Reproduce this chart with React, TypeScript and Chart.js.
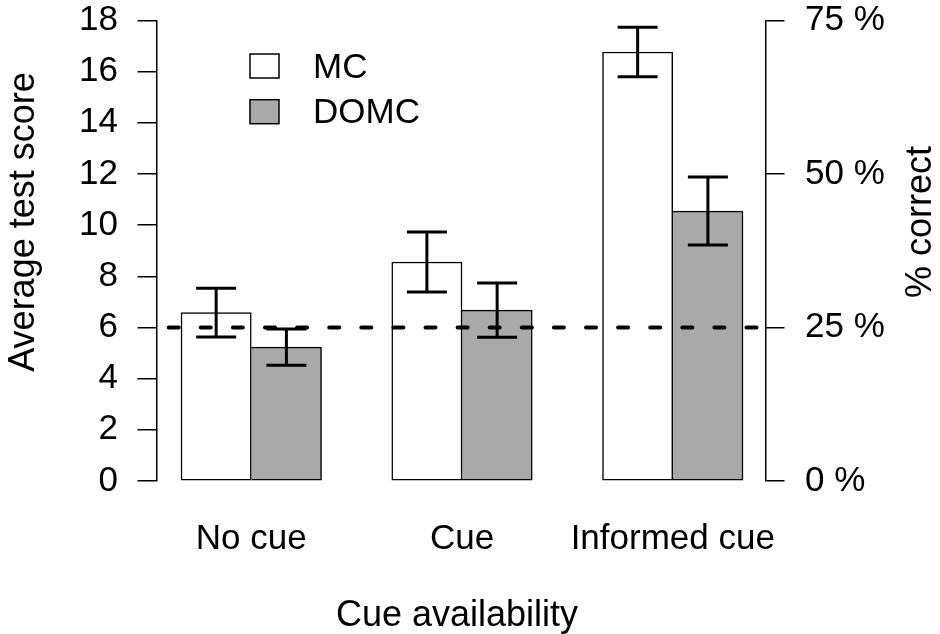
import React, { useEffect, useRef } from 'react';
import { Chart, registerables } from 'chart.js';

Chart.register(...registerables);

// ---- data ----
const categories = ['No cue', 'Cue', 'Informed cue'];
const seriesNames = ['MC', 'DOMC'];
const mcMeans = [6.58, 8.56, 16.77];
const domcMeans = [5.23, 6.68, 10.55];
const mcErrors = [0.95, 1.17, 0.97];
const domcErrors = [0.71, 1.06, 1.33];
const scoreTicks = [0, 2, 4, 6, 8, 10, 12, 14, 16, 18];
const percentTicks = [0, 25, 50, 75];
const totalItems = 24;
const chanceScore = 6;
const seriesColors = ['#FFFFFF', '#A9A9A9'];
const xTitle = 'Cue availability';
const yTitle = 'Average test score';
const y2Title = '% correct';

const means = [mcMeans, domcMeans];
const errors = [mcErrors, domcErrors];
const barsPerGroup = seriesNames.length;
const groupSpace = 1;
const barX = (i: number, s: number) => i * (barsPerGroup + groupSpace) + groupSpace + s + 0.5;
const groupCenter = (i: number) => i * (barsPerGroup + groupSpace) + groupSpace + barsPerGroup / 2;

const FONT = '"Liberation Sans", Arial, Helvetica, sans-serif';
const TICK_SIZE = 35;
const TITLE_SIZE = 36;

const errorBarPlugin = {
  id: 'errorBarsAndChance',
  afterDatasetsDraw(chart: any) {
    const ctx = chart.ctx;
    const ys = chart.scales.y;
    const area = chart.chartArea;
    ctx.save();
    // chance line
    const yc = ys.getPixelForValue(chanceScore);
    ctx.strokeStyle = '#000';
    ctx.lineWidth = 4;
    ctx.lineCap = 'round';
    ctx.setLineDash([10, 22.1]);
    ctx.lineDashOffset = 19.9;
    ctx.beginPath();
    ctx.moveTo(area.left, yc);
    ctx.lineTo(area.right, yc);
    ctx.stroke();
    ctx.setLineDash([]);
    // error bars
    ctx.lineWidth = 3;
    ctx.lineCap = 'butt';
    chart.data.datasets.forEach((_: any, s: number) => {
      const meta = chart.getDatasetMeta(s);
      meta.data.forEach((bar: any, i: number) => {
        const m = means[s][i];
        const e = errors[s][i];
        const yt = ys.getPixelForValue(m + e);
        const yb = ys.getPixelForValue(m - e);
        const x = bar.x;
        const half = 20;
        ctx.beginPath();
        ctx.moveTo(x, yt);
        ctx.lineTo(x, yb);
        ctx.moveTo(x - half, yt);
        ctx.lineTo(x + half, yt);
        ctx.moveTo(x - half, yb);
        ctx.lineTo(x + half, yb);
        ctx.stroke();
      });
    });
    ctx.restore();
  },
  afterDraw(chart: any) {
    const ctx = chart.ctx;
    const area = chart.chartArea;
    ctx.save();
    ctx.fillStyle = '#000';
    // legend
    const lx = area.left + 93.5;
    const ly = area.top + 33.5;
    const rowGap = 45.7;
    seriesNames.forEach((name, s) => {
      const top = ly + s * rowGap;
      ctx.fillStyle = seriesColors[s];
      ctx.fillRect(lx, top, 29, 24);
      ctx.strokeStyle = '#000';
      ctx.lineWidth = 1.5;
      ctx.strokeRect(lx, top, 29, 24);
      ctx.fillStyle = '#000';
      ctx.font = `${TICK_SIZE}px ${FONT}`;
      ctx.textAlign = 'left';
      ctx.textBaseline = 'alphabetic';
      ctx.fillText(name, lx + 63, top + 12 + 11.7);
    });
    // titles
    ctx.font = `${TITLE_SIZE}px ${FONT}`;
    ctx.textAlign = 'center';
    ctx.textBaseline = 'alphabetic';
    ctx.fillText(xTitle, (area.left + area.right) / 2 - 4, area.bottom + 145);
    const midY = area.top + 201.5;
    ctx.save();
    ctx.translate(34, midY);
    ctx.rotate(-Math.PI / 2);
    ctx.fillText(yTitle, 0, 0);
    ctx.restore();
    ctx.save();
    ctx.translate(931, midY);
    ctx.rotate(-Math.PI / 2);
    ctx.fillText(y2Title, 0, 0);
    ctx.restore();
    ctx.restore();
  },
};

const zeroVerticalPadding = (sc: any) => {
  sc.paddingTop = 0;
  sc.paddingBottom = 0;
};

export default function App() {
  const ref = useRef<HTMLCanvasElement | null>(null);
  useEffect(() => {
    if (!ref.current) return;
    Chart.defaults.color = '#000';
    const tickFont = { family: FONT, size: TICK_SIZE, lineHeight: 1 };
    const chart = new Chart(ref.current, {
      type: 'bar',
      data: {
        datasets: seriesNames.map((name, s) => ({
          label: name,
          data: categories.map((_, i) => ({ x: barX(i, s), y: means[s][i] })),
          backgroundColor: seriesColors[s],
          borderColor: '#000',
          borderWidth: 1.5,
          borderSkipped: s === 1 ? 'left' : false,
          grouped: false,
          barPercentage: 1,
          categoryPercentage: 1,
          yAxisID: 'y',
        })) as any,
      },
      options: {
        animation: false,
        responsive: false,
        events: [],
        layout: { padding: { top: 20.5, left: 0, right: 0, bottom: 0 } },
        plugins: {
          legend: { display: false },
          tooltip: { enabled: false },
          title: { display: false },
        },
        scales: {
          x: {
            type: 'linear',
            bounds: 'data',
            offset: false,
            min: 0.651,
            max: 9.32,
            grid: { display: false, drawTicks: false, offset: false },
            border: { display: false },
            afterBuildTicks: (sc: any) => {
              sc.ticks = categories.map((_, i) => ({ value: groupCenter(i) }));
            },
            afterFit: (sc: any) => {
              sc.height = 153;
              sc.paddingLeft = 0;
              sc.paddingRight = 0;
            },
            ticks: {
              padding: 40.5,
              color: '#000',
              font: tickFont,
              maxRotation: 0,
              autoSkip: false,
              callback: (_v: any, i: number) => categories[i],
            },
          } as any,
          y: {
            position: 'left',
            min: 0,
            max: 18,
            afterBuildTicks: (sc: any) => {
              sc.ticks = scoreTicks.map((v) => ({ value: v }));
            },
            afterFit: (sc: any) => {
              sc.width = 156.5;
              zeroVerticalPadding(sc);
            },
            grid: { drawOnChartArea: false, drawTicks: true, tickLength: 19, color: '#000', lineWidth: 1.5 },
            border: { display: true, color: '#000', width: 1.5 },
            ticks: {
              padding: 19.5,
              color: '#000',
              font: tickFont,
              autoSkip: false,
              callback: (v: any) => String(v),
            },
          } as any,
          y2: {
            position: 'right',
            min: 0,
            max: 18,
            afterBuildTicks: (sc: any) => {
              sc.ticks = percentTicks.map((p) => ({ value: (p / 100) * totalItems }));
            },
            afterFit: (sc: any) => {
              sc.width = 174.5;
              zeroVerticalPadding(sc);
            },
            grid: { drawOnChartArea: false, drawTicks: true, tickLength: 19, color: '#000', lineWidth: 1.5 },
            border: { display: true, color: '#000', width: 1.5 },
            ticks: {
              padding: 20.5,
              color: '#000',
              font: tickFont,
              autoSkip: false,
              callback: (_v: any, i: number) => `${percentTicks[i]} %`,
            },
          } as any,
        },
      },
      plugins: [errorBarPlugin],
    });
    return () => chart.destroy();
  }, []);
  return (
    <div style={{ position: 'fixed', left: 0, top: 0, width: 940, height: 634, background: '#fff' }}>
      <canvas ref={ref} width={940} height={634} style={{ display: 'block' }} />
    </div>
  );
}
